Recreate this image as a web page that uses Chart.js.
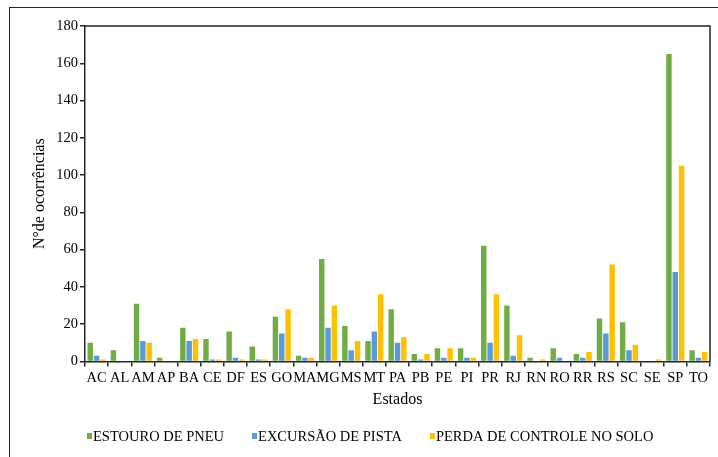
<!DOCTYPE html>
<html>
<head>
<meta charset="utf-8">
<script src="https://cdn.jsdelivr.net/npm/chart.js@4.4.0/dist/chart.umd.min.js"></script>
<style>
  html, body { margin: 0; padding: 0; background: #fff; }
  #wrap { position: relative; width: 718px; height: 457px; overflow: hidden; }
  #frame { position: absolute; left: 9px; top: 7px; width: 800px; height: 600px; border: 1.5px solid #262626; }
  #c { position: absolute; left: 0; top: 0; }
</style>
</head>
<body>
<div id="wrap">
  <div id="frame"></div>
  <canvas id="c" width="718" height="457"></canvas>
</div>
<script>
// occurrences per state (pt-BR chart)
const estados = ['AC', 'AL', 'AM', 'AP', 'BA', 'CE', 'DF', 'ES', 'GO', 'MA', 'MG', 'MS', 'MT', 'PA',
    'PB', 'PE', 'PI', 'PR', 'RJ', 'RN', 'RO', 'RR', 'RS', 'SC', 'SE', 'SP', 'TO'];
const estouroPneu = [10, 6, 31, 2, 18, 12, 16, 8, 24, 3, 55, 19, 11, 28, 4, 7, 7, 62, 30, 2, 7, 4, 23, 21, 0, 165, 6];
const excursaoPista = [3, 0, 11, 0, 11, 1, 2, 1, 15, 2, 18, 6, 16, 10, 1, 2, 2, 10, 3, 0, 2, 2, 15, 6, 0, 48, 2];
const perdaControle = [1, 0, 10, 0, 12, 1, 1, 1, 28, 2, 30, 11, 36, 13, 4, 7, 2, 36, 14, 1, 0, 5, 52, 9, 1, 105, 5];
const yTicks = { min: 0, max: 180, step: 20 };

const FONT = '"Liberation Serif", "Times New Roman", serif';
const AXIS = '#262626';

const seriesDefs = [
    { label: 'ESTOURO DE PNEU', data: estouroPneu, color: '#70AD47' },
    { label: 'EXCURSÃO DE PISTA', data: excursaoPista, color: '#5B9BD5' },
    { label: 'PERDA DE CONTROLE NO SOLO', data: perdaControle, color: '#FFC000' },
];

const plotBox = {
    id: 'plotBox',
    afterDraw(chart) {
        const { ctx, chartArea: a } = chart;
        ctx.save();
        ctx.strokeStyle = AXIS;
        ctx.lineWidth = 1.5;
        ctx.beginPath();
        ctx.moveTo(a.left, a.top);
        ctx.lineTo(a.right, a.top);
        ctx.lineTo(a.right, a.bottom);
        ctx.stroke();
        ctx.restore();
    },
};

const bottomLegend = {
    id: 'bottomLegend',
    afterDraw(chart) {
        const { ctx, chartArea: a } = chart;
        ctx.save();
        ctx.font = '14.5px ' + FONT;
        ctx.textBaseline = 'middle';
        ctx.textAlign = 'left';
        let x = a.left + 2;
        const y = 437;
        seriesDefs.forEach(s => {
            ctx.fillStyle = s.color;
            ctx.fillRect(x, y - 4, 5, 6);
            ctx.fillStyle = '#000';
            ctx.fillText(s.label, x + 6, y);
            x += 6 + ctx.measureText(s.label).width + 28;
        });
        ctx.restore();
    },
};

new Chart(document.getElementById('c'), {
    type: 'bar',
    data: {
        labels: estados,
        datasets: seriesDefs.map(s => ({
            label: s.label,
            data: s.data,
            backgroundColor: s.color,
            borderWidth: 0,
            categoryPercentage: 0.82,
            barPercentage: 0.86,
        })),
    },
    plugins: [plotBox, bottomLegend],
    options: {
        responsive: false,
        animation: false,
        layout: { padding: { left: 27, right: 8, top: 26, bottom: 48 } },
        plugins: {
            legend: { display: false },
            tooltip: { enabled: false },
        },
        scales: {
            x: {
                grid: { offset: true, drawOnChartArea: false, drawTicks: true, tickLength: 5, color: AXIS, lineWidth: 1.5 },
                border: { color: AXIS, width: 1.5 },
                ticks: { autoSkip: false, maxRotation: 0, minRotation: 0, color: '#000', font: { family: FONT, size: 14.5 }, padding: 3 },
                title: { display: true, text: 'Estados', color: '#000', font: { family: FONT, size: 16 }, padding: { top: 0, bottom: 0 } },
            },
            y: {
                min: yTicks.min,
                max: yTicks.max,
                afterFit(s) { s.width = 58; },
                grid: { drawOnChartArea: false, drawTicks: true, tickLength: 5, color: AXIS, lineWidth: 1.5 },
                border: { color: AXIS, width: 1.5 },
                ticks: { stepSize: yTicks.step, color: '#000', font: { family: FONT, size: 14.5 }, padding: 2 },
                title: { display: true, text: 'N°de ocorrências', color: '#000', font: { family: FONT, size: 16 }, padding: { top: 3, bottom: 4 } },
            },
        },
    },
});
</script>
</body>
</html>
